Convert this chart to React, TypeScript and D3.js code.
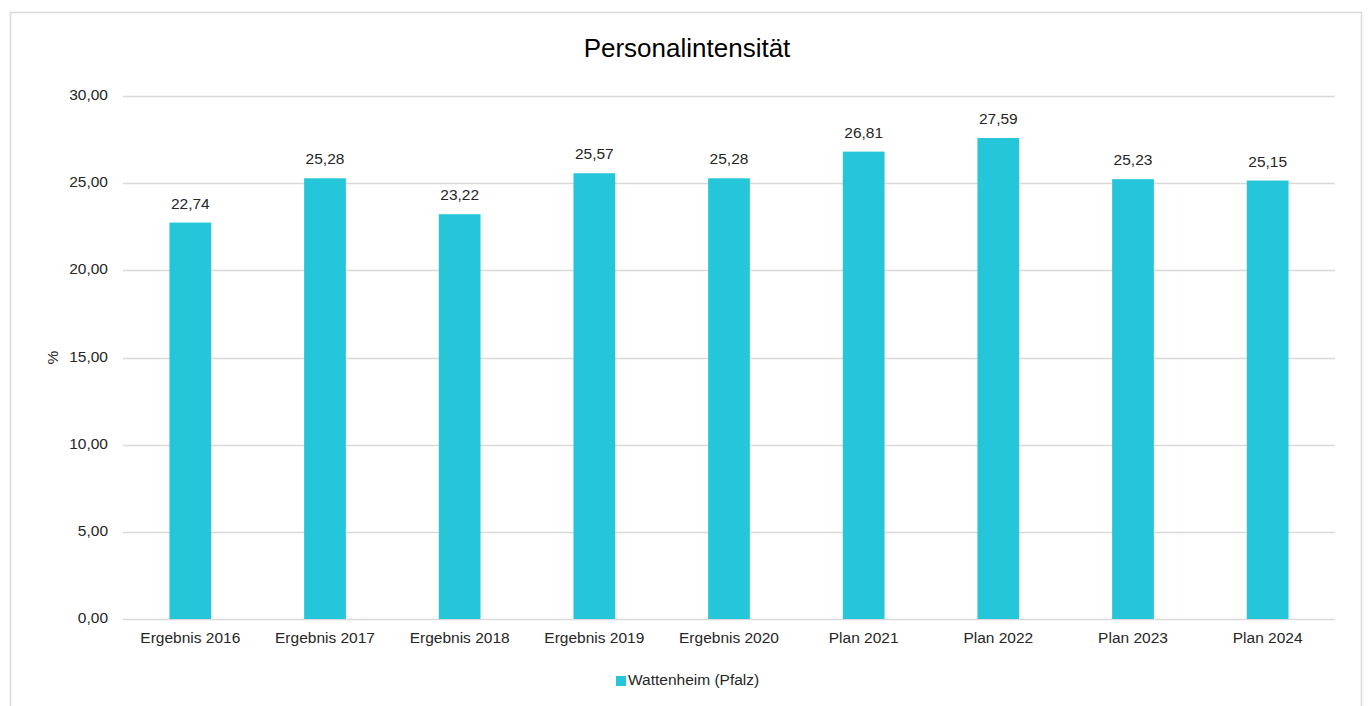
import * as d3 from "d3";
import { useEffect, useRef } from "react";

const categories = [
  "Ergebnis 2016",
  "Ergebnis 2017",
  "Ergebnis 2018",
  "Ergebnis 2019",
  "Ergebnis 2020",
  "Plan 2021",
  "Plan 2022",
  "Plan 2023",
  "Plan 2024",
];
const values = [22.74, 25.28, 23.22, 25.57, 25.28, 26.81, 27.59, 25.23, 25.15];
const yTicks = [0, 5, 10, 15, 20, 25, 30];
const seriesName = "Wattenheim (Pfalz)";

const fmt = (v: number) => v.toFixed(2).replace(".", ",");

export default function App() {
  const ref = useRef<SVGSVGElement>(null);

  useEffect(() => {
    if (!ref.current) return;
    const svg = d3.select(ref.current);
    svg.selectAll("*").remove();

    const width = 1368;
    const height = 706;
    const font = "'Liberation Sans', Arial, sans-serif";
    const fs = "15.5px";
    const color = "#26C6DA";

    svg.attr("width", width).attr("height", height);

    // chart frame
    svg
      .append("rect")
      .attr("x", 10.5)
      .attr("y", 12.5)
      .attr("width", 1351)
      .attr("height", 720)
      .attr("fill", "#fff")
      .attr("stroke", "#d9d9d9")
      .attr("stroke-width", 1.5);

    const plot = { left: 123, right: 1335, top: 96, bottom: 619 };

    const x = d3
      .scaleBand()
      .domain(categories)
      .range([plot.left, plot.right])
      .paddingInner(0.69)
      .paddingOuter(0.345);
    const y = d3.scaleLinear().domain([0, 30]).range([plot.bottom, plot.top]);

    // gridlines
    svg
      .append("g")
      .selectAll("line")
      .data(yTicks)
      .join("line")
      .attr("x1", plot.left)
      .attr("x2", plot.right)
      .attr("y1", (d) => Math.round(y(d)) + 0.5)
      .attr("y2", (d) => Math.round(y(d)) + 0.5)
      .attr("stroke", "#d9d9d9")
      .attr("stroke-width", 1.3);

    // y tick labels
    svg
      .append("g")
      .selectAll("text")
      .data(yTicks)
      .join("text")
      .attr("x", 108)
      .attr("y", (d) => y(d))
      .attr("text-anchor", "end")
      .attr("dominant-baseline", "middle")
      .style("font-family", font)
      .style("font-size", fs)
      .style("fill", "#262626")
      .text((d) => fmt(d));

    // bars
    svg
      .append("g")
      .selectAll("rect")
      .data(values)
      .join("rect")
      .attr("x", (_, i) => x(categories[i]) ?? 0)
      .attr("y", (d) => y(d))
      .attr("width", x.bandwidth())
      .attr("height", (d) => y(0) - y(d))
      .attr("fill", color);

    // value labels
    svg
      .append("g")
      .selectAll("text")
      .data(values)
      .join("text")
      .attr("x", (_, i) => (x(categories[i]) ?? 0) + x.bandwidth() / 2)
      .attr("y", (d) => y(d) - 14)
      .attr("text-anchor", "middle")
      .style("font-family", font)
      .style("font-size", fs)
      .style("fill", "#262626")
      .text((d) => fmt(d));

    // category labels
    svg
      .append("g")
      .selectAll("text")
      .data(categories)
      .join("text")
      .attr("x", (d) => (x(d) ?? 0) + x.bandwidth() / 2)
      .attr("y", plot.bottom + 24)
      .attr("text-anchor", "middle")
      .style("font-family", font)
      .style("font-size", fs)
      .style("fill", "#262626")
      .text((d) => d);

    // y axis title
    svg
      .append("text")
      .attr("transform", `translate(58,${(plot.top + plot.bottom) / 2}) rotate(-90)`)
      .attr("text-anchor", "middle")
      .style("font-family", font)
      .style("font-size", fs)
      .style("fill", "#262626")
      .text("%");

    // title
    svg
      .append("text")
      .attr("x", 687)
      .attr("y", 57)
      .attr("text-anchor", "middle")
      .style("font-family", font)
      .style("font-size", "26px")
      .style("fill", "#000")
      .text("Personalintensität");

    // legend
    const legend = svg.append("g").attr("transform", "translate(616,676)");
    legend.append("rect").attr("width", 10).attr("height", 10).attr("fill", color);
    legend
      .append("text")
      .attr("x", 12)
      .attr("y", 5)
      .attr("dominant-baseline", "middle")
      .style("font-family", font)
      .style("font-size", fs)
      .style("fill", "#262626")
      .text(seriesName);
  }, []);

  return (
    <div style={{ position: "absolute", left: 0, top: 0 }}>
      <svg ref={ref} style={{ display: "block" }} />
    </div>
  );
}
